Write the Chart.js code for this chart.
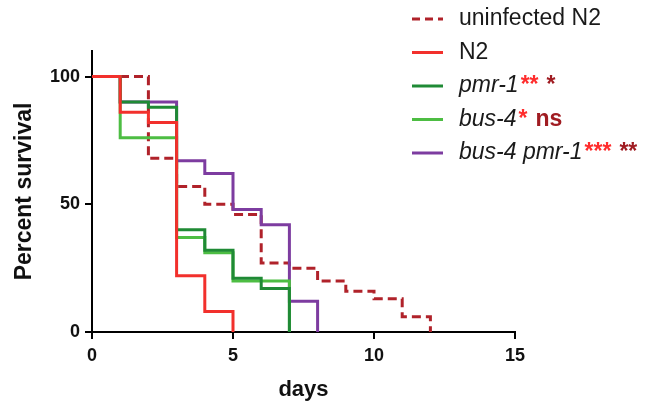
<!DOCTYPE html>
<html><head><meta charset="utf-8">
<script src="https://cdn.jsdelivr.net/npm/chart.js@4.4.0/dist/chart.umd.min.js"></script>
<style>html,body{margin:0;padding:0;background:#fff;} #wrap{width:654px;height:403px;position:relative;}</style>
</head><body><div id="wrap"><canvas id="c" width="654" height="403"></canvas></div>
<script>
// ---- data ----
const seriesNames = ['uninfected N2', 'N2', 'pmr-1', 'bus-4', 'bus-4 pmr-1'];
const uninfDays = [0, 2, 3, 4, 5, 6, 7, 8, 9, 10, 11, 12];
const uninfSurv = [100, 68, 57, 50, 46, 27, 25, 20, 16, 13, 6, 0];
const n2Days = [0, 1, 2, 3, 4, 5];
const n2Surv = [100, 86, 82, 22, 8, 0];
const pmr1Days = [0, 1, 2, 3, 4, 5, 6, 7];
const pmr1Surv = [100, 90, 88, 40, 32, 21, 17, 0];
const bus4Days = [0, 1, 3, 4, 5, 7];
const bus4Surv = [100, 76, 37, 31, 20, 0];
const bus4pmr1Days = [0, 1, 3, 4, 5, 6, 7, 8];
const bus4pmr1Surv = [100, 90, 67, 62, 48, 42, 12, 0];
const xTicks = [0, 5, 10, 15];
const yTicks = [0, 50, 100];
const sigVsN2 = ['', '', '**', '*', '***'];
const sigVsUninf = ['', '', '*', 'ns', '**'];

// ---- styles ----
const colors = ['#b0222a', '#f2302c', '#1f8a35', '#4dbd43', '#7d3ca0'];
const italicName = [false, false, true, true, true];
const FONT = '"Liberation Sans", Arial, sans-serif';

const allDays = [uninfDays, n2Days, pmr1Days, bus4Days, bus4pmr1Days];
const allSurv = [uninfSurv, n2Surv, pmr1Surv, bus4Surv, bus4pmr1Surv];
const drawOrder = [4, 0, 1, 2, 3];

const datasets = seriesNames.map((name, i) => ({
  label: name,
  data: allDays[i].map((d, j) => ({x: d, y: allSurv[i][j]})),
  borderColor: colors[i],
  backgroundColor: colors[i],
  borderWidth: 3,
  borderDash: i === 0 ? [9, 5] : [],
  stepped: true,
  pointRadius: 0,
  fill: false,
  order: drawOrder[i]
}));

const legendPlugin = {
  id: 'customLegend',
  afterDraw(chart) {
    const ctx = chart.ctx;
    const rowY = [19, 52.5, 86, 119.5, 153];
    ctx.save();
    seriesNames.forEach((name, i) => {
      const y = rowY[i];
      ctx.beginPath();
      ctx.strokeStyle = colors[i];
      ctx.lineWidth = 3;
      ctx.setLineDash(i === 0 ? [8, 5] : []);
      ctx.moveTo(412, y);
      ctx.lineTo(443, y);
      ctx.stroke();
      ctx.setLineDash([]);
      ctx.textBaseline = 'middle';
      ctx.textAlign = 'left';
      let x = 459;
      ctx.font = (italicName[i] ? 'italic ' : '') + '23px ' + FONT;
      ctx.fillStyle = '#1a1a1a';
      ctx.fillText(name, x, y);
      x += ctx.measureText(name).width + 2;
      if (sigVsN2[i]) {
        ctx.font = 'bold 23px ' + FONT;
        ctx.fillStyle = '#ff2d2d';
        ctx.fillText(sigVsN2[i], x, y);
        x += ctx.measureText(sigVsN2[i]).width + 8;
      }
      if (sigVsUninf[i]) {
        ctx.font = 'bold 23px ' + FONT;
        ctx.fillStyle = '#a01c22';
        ctx.fillText(sigVsUninf[i], x, y);
      }
    });
    ctx.restore();
  }
};

new Chart(document.getElementById('c'), {
  type: 'line',
  data: {datasets},
  plugins: [legendPlugin],
  options: {
    responsive: false,
    animation: false,
    events: [],
    layout: {padding: {top: 51, right: 139, left: 0, bottom: 0}},
    plugins: {legend: {display: false}, tooltip: {enabled: false}},
    scales: {
      x: {
        type: 'linear', min: 0, max: 15,
        afterBuildTicks: s => { s.ticks = xTicks.map(v => ({value: v})); },
        afterFit: s => { s.height = 71; },
        ticks: {color: '#111', font: {family: FONT, size: 18, weight: 'bold'}, padding: 6, maxRotation: 0},
        border: {display: true, color: '#000', width: 2},
        grid: {drawOnChartArea: false, drawTicks: true, tickLength: 7, color: '#000', lineWidth: 2},
        title: {display: true, text: 'days', color: '#111', font: {family: FONT, size: 22, weight: 'bold'}, padding: {top: 0, bottom: 0}}
      },
      y: {
        type: 'linear', min: 0, max: 110,
        afterBuildTicks: s => { s.ticks = yTicks.map(v => ({value: v})); },
        afterFit: s => { s.width = 92; },
        ticks: {color: '#111', font: {family: FONT, size: 18, weight: 'bold'}, padding: 5},
        border: {display: true, color: '#000', width: 2},
        grid: {drawOnChartArea: false, drawTicks: true, tickLength: 7, color: '#000', lineWidth: 2},
        title: {display: true, text: 'Percent survival', color: '#111', font: {family: FONT, size: 23, weight: 'bold'}, padding: {top: 11, bottom: 0}}
      }
    }
  }
});
</script>
</body></html>
